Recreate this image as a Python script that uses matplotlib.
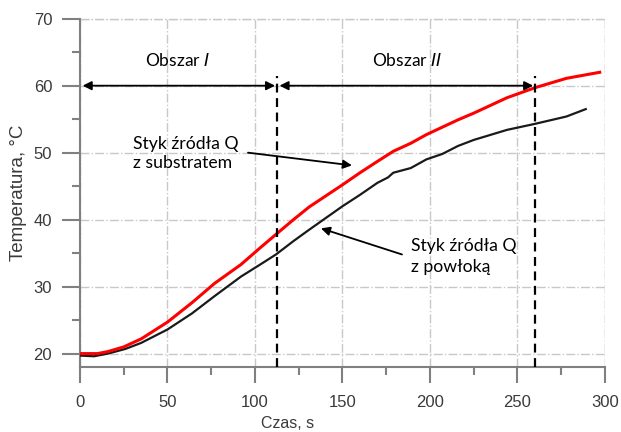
import numpy as np
import matplotlib
matplotlib.use("Agg")
import matplotlib.pyplot as plt
from matplotlib.ticker import MultipleLocator

# Data (time in s, temperature in deg C)
t_substrate = [0, 10, 16, 25, 35, 50, 64, 77, 92, 103, 112, 122, 131, 150,
               160, 170, 179, 189, 198, 207, 216, 225, 244, 260, 278, 297]
T_substrate = [20.0, 20.0, 20.3, 21.0, 22.2, 24.7, 27.6, 30.5, 33.3, 35.8,
               37.8, 40.0, 41.9, 45.2, 47.0, 48.7, 50.2, 51.4, 52.7, 53.8,
               54.9, 55.9, 58.2, 59.7, 61.1, 62.0]

t_coating = [0, 8, 16, 26, 35, 50, 64, 77, 92, 103, 112, 122, 131, 150,
             160, 170, 176, 179, 189, 198, 207, 216, 225, 244, 260, 278, 289]
T_coating = [19.7, 19.6, 20.0, 20.7, 21.6, 23.6, 26.0, 28.6, 31.5, 33.3,
             34.8, 36.8, 38.5, 42.0, 43.7, 45.5, 46.3, 47.0, 47.7, 49.0,
             49.8, 51.0, 51.9, 53.4, 54.3, 55.4, 56.5]

region_bounds = [0, 112.5, 260]
x_ticks = [0, 50, 100, 150, 200, 250, 300]
y_ticks = [20, 30, 40, 50, 60, 70]

grey = "#808080"
note_font = "Lato"

fig = plt.figure(figsize=(6.21, 4.32), dpi=100)
ax = fig.add_axes([0.1288, 0.1505, 0.8454, 0.8062])

ax.plot(t_coating, T_coating, color="#1a1a1a", lw=1.6, zorder=3)
ax.plot(t_substrate, T_substrate, color="#ff0000", lw=2.2, zorder=4)

ax.set_xlim(0, 300)
ax.set_ylim(18, 70)
ax.set_xticks(x_ticks)
ax.set_yticks(y_ticks)
ax.xaxis.set_minor_locator(MultipleLocator(25))
ax.yaxis.set_minor_locator(MultipleLocator(5))

for s in ["top", "right"]:
    ax.spines[s].set_visible(False)
for s in ["left", "bottom"]:
    ax.spines[s].set_color(grey)
    ax.spines[s].set_linewidth(1.5)

ax.tick_params(which="major", width=1.5, color=grey,
               labelcolor="#3a3a3a", labelsize=12)
ax.tick_params(axis="x", which="major", length=11.5, pad=9)
ax.tick_params(axis="y", which="major", length=13, pad=7)
ax.tick_params(which="minor", length=6, width=1.5, color=grey)
for lab in ax.get_xticklabels() + ax.get_yticklabels():
    lab.set_fontfamily("Liberation Sans")

ax.grid(True, which="major", color="#c8c8c8", lw=1.0, ls="-.")
ax.set_axisbelow(True)
# grid lines at the far edges (x=300, y=70)
ax.axvline(300, color="#c8c8c8", lw=1.0, ls="-.", zorder=0)
ax.axhline(70, color="#c8c8c8", lw=1.0, ls="-.", zorder=0, clip_on=False)

ax.set_ylabel("Temperatura, °C", fontsize=13.5, color="#3a3a3a",
              family="Liberation Sans")
ax.set_xlabel("Czas, s", fontsize=11.5, color="#3a3a3a", family="Liberation Sans")
ax.xaxis.set_label_coords(0.396, -0.141)
ax.yaxis.set_label_coords(-0.101, 0.5)

# region boundaries
for xb in region_bounds[1:]:
    ax.plot([xb, xb], [18, 61.5], color="black", lw=1.6, ls=(0, (4, 2.5)),
            zorder=5, clip_on=False)

# region arrows
arrow_kw = dict(arrowstyle="<|-|>", color="black", lw=1.3, mutation_scale=13,
                shrinkA=0, shrinkB=0)
ax.annotate("", xy=(region_bounds[1] - 1, 60), xytext=(region_bounds[0] + 1.5, 60),
            arrowprops=arrow_kw, zorder=6)
ax.annotate("", xy=(region_bounds[2] - 1, 60), xytext=(region_bounds[1] + 1.5, 60),
            arrowprops=arrow_kw, zorder=6)

ax.text(56, 63.8, "Obszar $\\it{I}$", ha="center", va="center", fontsize=12.5,
        family=note_font)
ax.text(187, 63.8, "Obszar $\\it{II}$", ha="center", va="center", fontsize=12.5,
        family=note_font)

pointer_kw = dict(arrowstyle="-|>", color="black", lw=1.3, mutation_scale=13,
                  shrinkA=0, shrinkB=0)
ax.text(30.3, 49.9, "Styk źródła Q\nz substratem", ha="left", va="center",
        fontsize=12.7, family=note_font, linespacing=1.25)
ax.annotate("", xy=(155.4, 48.1), xytext=(96, 50.0), arrowprops=pointer_kw,
            zorder=6)

ax.text(189, 34.5, "Styk źródła Q\nz powłoką", ha="left", va="center",
        fontsize=12.7, family=note_font, linespacing=1.35)
ax.annotate("", xy=(137.7, 38.7), xytext=(184, 34.8), arrowprops=pointer_kw,
            zorder=6)

fig.savefig("out.png", dpi=100)
